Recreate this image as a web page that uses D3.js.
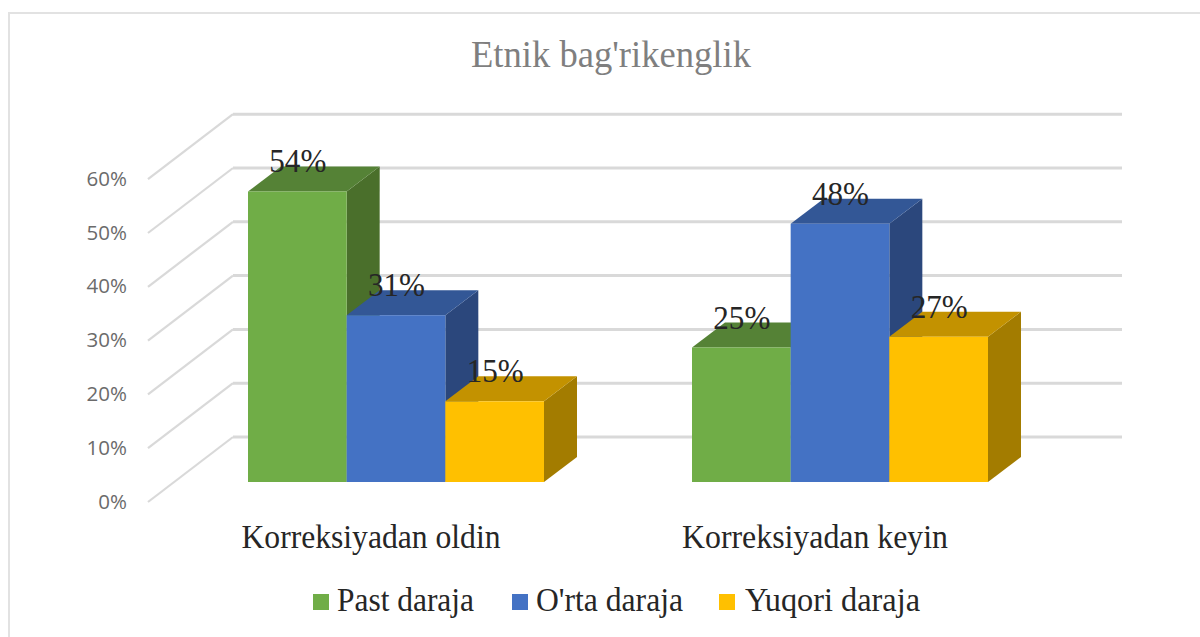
<!DOCTYPE html>
<html><head><meta charset="utf-8">
<script src="https://cdn.jsdelivr.net/npm/d3@7"></script>
<style>html,body{margin:0;padding:0;background:#fff}svg{display:block}</style>
</head><body><svg id="c" width="1200" height="637"></svg>
<script>
const categories = ["Korreksiyadan oldin", "Korreksiyadan keyin"];
const seriesNames = ["Past daraja", "O'rta daraja", "Yuqori daraja"];
const pastValues = [54, 25];
const ortaValues = [31, 48];
const yuqoriValues = [15, 27];
const yTicks = [0, 10, 20, 30, 40, 50, 60];
const titleText = "Etnik bag'rikenglik";
const frontColors = ["#70ad47", "#4472c4", "#ffc000"];
const topColors = ["#558236", "#335796", "#c39200"];
const sideColors = ["#4a6f2b", "#2b477c", "#a37c00"];

const svg = d3.select("#c");
const serif = "'Liberation Serif','Times New Roman',serif";
const series = [pastValues, ortaValues, yuqoriValues];

svg.append("path").attr("d", "M9 637V13H1200").attr("fill", "none").attr("stroke", "#e2e2e2").attr("stroke-width", 2);

const baseY = 482, perTen = 53.8;
const h = d3.scaleLinear().domain([0, 60]).range([0, perTen * 6]);
const x0 = d3.scaleBand().domain(categories).range([174, 1062]);
const innerPad = x0.step() / 6;
const x1 = d3.scaleBand().domain(d3.range(3)).range([innerPad, x0.step() - innerPad]);

const wallY = d3.scaleLinear().domain([0, 60]).range([437, 437 - perTen * 6]);
const g = svg.append("g").attr("fill", "none").attr("stroke", "#d9d9d9");
yTicks.forEach(t => {
  const by = wallY(t);
  g.append("path").attr("d", `M148 ${by + 65}L233 ${by}`).attr("stroke-width", 2.2);
  g.append("path").attr("d", `M233 ${by}H1122`).attr("stroke-width", 3);
});

svg.append("g").selectAll("text").data(yTicks).join("text")
  .attr("x", 127).attr("y", d => wallY(d) + 65 + 6.5)
  .attr("text-anchor", "end").attr("fill", "#6b6b6b")
  .attr("font-family", "'Open Sans',sans-serif").attr("font-size", 20.5)
  .text(d => d + "%");

const dx = 33, dy = 25;
const bars = svg.append("g");
categories.forEach((c, ci) => {
  series.forEach((vals, si) => {
    const x = x0(c) + x1(si), w = x1.bandwidth(), top = baseY - h(vals[ci]);
    bars.append("path").attr("fill", sideColors[si])
      .attr("d", `M${x + w} ${top}l${dx} ${-dy}V${baseY - dy}l${-dx} ${dy}Z`);
    bars.append("path").attr("fill", topColors[si])
      .attr("d", `M${x} ${top}h${w}l${dx} ${-dy}h${-w}Z`);
    bars.append("rect").attr("x", x).attr("y", top).attr("width", w).attr("height", h(vals[ci])).attr("fill", frontColors[si]);
  });
});

const labels = svg.append("g").attr("font-family", serif).attr("font-size", 33).attr("fill", "#262626").attr("text-anchor", "middle");
categories.forEach((c, ci) => {
  series.forEach((vals, si) => {
    labels.append("text").attr("x", x0(c) + x1(si) + x1.bandwidth() / 2 + 0.5)
      .attr("y", baseY - h(vals[ci]) - 19)
      .attr("textLength", 57).attr("lengthAdjust", "spacingAndGlyphs")
      .text(vals[ci] + "%");
  });
});

const categoryWidths = [259, 266];
svg.append("g").selectAll("text").data(categories).join("text")
  .attr("x", d => x0(d) + x0.bandwidth() / 2 - 25).attr("y", 548)
  .attr("text-anchor", "middle").attr("font-family", serif).attr("font-size", 33).attr("fill", "#262626")
  .attr("textLength", (d, i) => categoryWidths[i]).attr("lengthAdjust", "spacingAndGlyphs")
  .text(d => d);

svg.append("text").attr("x", 611).attr("y", 67).attr("text-anchor", "middle")
  .attr("font-family", serif).attr("font-size", 37.5).attr("fill", "#7f7f7f")
  .attr("textLength", 280).attr("lengthAdjust", "spacingAndGlyphs").text(titleText);

const legendX = [313, 512, 719];
const legendTextX = [337, 536, 745];
const legendWidths = [137, 147, 175];
const legend = svg.append("g");
seriesNames.forEach((n, i) => {
  legend.append("rect").attr("x", legendX[i]).attr("y", 594).attr("width", 16).attr("height", 16).attr("fill", frontColors[i]);
  legend.append("text").attr("x", legendTextX[i]).attr("y", 611)
    .attr("font-family", serif).attr("font-size", 33).attr("fill", "#262626")
    .attr("textLength", legendWidths[i]).attr("lengthAdjust", "spacingAndGlyphs").text(n);
});
</script></body></html>
